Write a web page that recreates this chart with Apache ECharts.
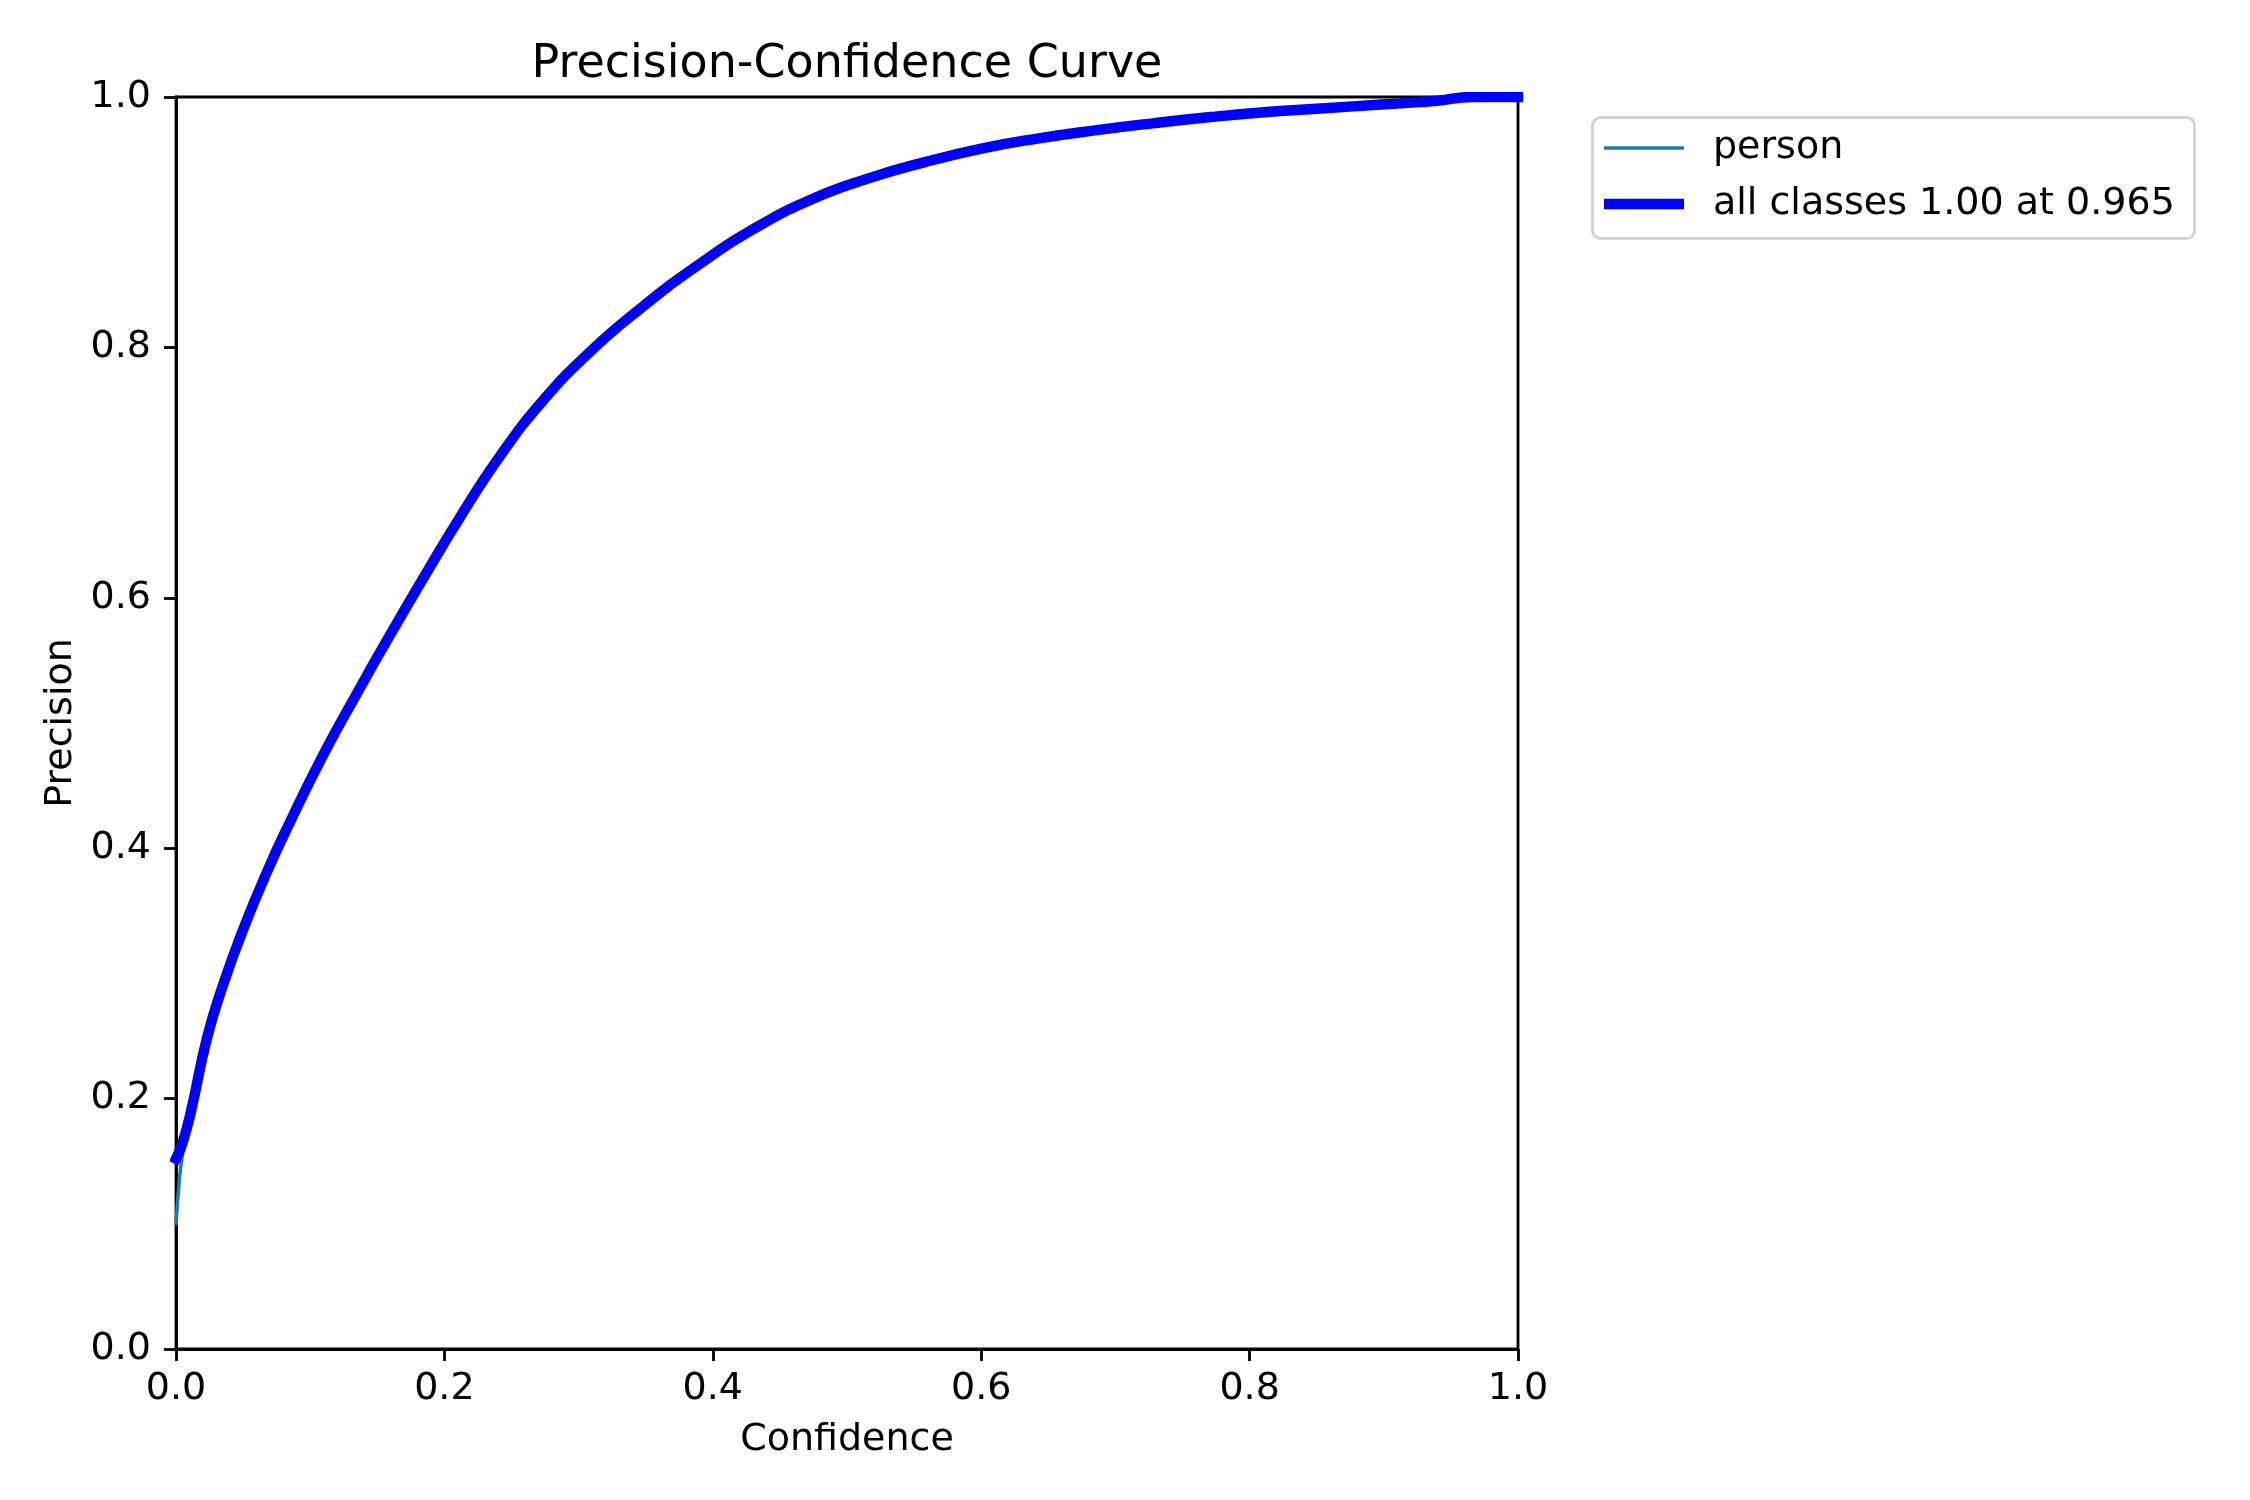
<!DOCTYPE html>
<html><head><meta charset="utf-8">
<script src="https://cdn.jsdelivr.net/npm/echarts/dist/echarts.min.js"></script>
<style>html,body{margin:0;padding:0;background:#fff}#c{width:2250px;height:1500px}</style>
</head><body><div id="c"></div>
<script>
// Confidence values (x) and smoothed precision for all classes
const confidence = [0.000,0.005,0.0114,0.023,0.0345,0.050,0.069,0.085,0.108,0.135,0.1615,0.185,0.212,0.242,0.273,0.308,0.346,0.388,0.431,0.473,0.516,0.558,0.601,0.643,0.686,0.728,0.771,0.813,0.856,0.898,0.940,0.965,1.000];
const allClassesPrecision = [0.152,0.165,0.191,0.248,0.289,0.335,0.384,0.421,0.471,0.524,0.574,0.617,0.665,0.714,0.757,0.796,0.831,0.865,0.895,0.918,0.935,0.948,0.959,0.967,0.9735,0.979,0.984,0.988,0.991,0.994,0.997,1.000,1.000];
// Raw per-class precision (person)
const personConfidence = [0.000,0.0025,0.0055,0.0114,0.023,0.0345,0.050,0.069,0.085,0.108,0.135,0.1615,0.185,0.212,0.242,0.273,0.308,0.346,0.388,0.431,0.473,0.516,0.558,0.601,0.643,0.686,0.728,0.771,0.813,0.856,0.898,0.925,0.930,0.935,0.950,0.965,1.000];
const personPrecision = [0.099,0.135,0.160,0.191,0.248,0.289,0.335,0.384,0.421,0.471,0.524,0.574,0.617,0.665,0.714,0.757,0.796,0.831,0.865,0.895,0.918,0.935,0.948,0.959,0.967,0.9735,0.979,0.984,0.988,0.991,0.994,0.996,0.993,0.996,0.999,1.000,1.000];
const tickValues = [0.0,0.2,0.4,0.6,0.8,1.0];
const seriesNames = ['person','all classes 1.00 at 0.965'];

const FONT = 'DejaVu Sans';
const chart = echarts.init(document.getElementById('c'), null, {renderer:'canvas'});
const axisCommon = {
  type:'value', min:tickValues[0], max:tickValues[tickValues.length-1], interval:0.2,
  axisLine:{show:true, lineStyle:{color:'#000', width:2.8}},
  axisTick:{show:true, length:12, lineStyle:{color:'#000', width:2.8}},
  splitLine:{show:false},
  nameTextStyle:{fontFamily:FONT, fontSize:38, color:'#000'},
  nameLocation:'middle'
};
const legendCommon = {
  orient:'vertical', left:1604, itemWidth:80, itemGap:0, padding:0,
  icon:'rect', selectedMode:false,
  textStyle:{fontFamily:FONT, fontSize:38, color:'#000', lineHeight:44, padding:[0,0,0,24]}
};
chart.setOption({
  animation:false,
  backgroundColor:'#fff',
  title:{text:'Precision-Confidence Curve', left:847, top:42, textAlign:'center', padding:0,
    textStyle:{fontFamily:FONT, fontSize:46, fontWeight:'normal', color:'#000'}},
  grid:{left:176, top:97, right:732, bottom:151, show:true, borderColor:'#000', borderWidth:2.8, backgroundColor:'transparent'},
  graphic:[{type:'rect', left:1591, top:116, z:-1,
    shape:{width:602, height:121, r:8},
    style:{fill:'#fff', stroke:'#d5d5d5', lineWidth:3}}],
  legend:[
    Object.assign({}, legendCommon, {top:126, itemHeight:3.5, data:[seriesNames[0]]}),
    Object.assign({}, legendCommon, {top:182, itemHeight:10.4, data:[seriesNames[1]]})
  ],
  xAxis:Object.assign({}, axisCommon, {name:'Confidence', nameGap:72,
    axisLabel:{fontFamily:FONT, fontSize:38, color:'#000', margin:21, formatter:v=>v.toFixed(1)}}),
  yAxis:Object.assign({}, axisCommon, {name:'Precision', nameGap:95,
    axisLabel:{fontFamily:FONT, fontSize:38, color:'#000', margin:25, formatter:v=>v.toFixed(1)}}),
  series:[
    {name:seriesNames[0], type:'line', symbol:'none', smooth:0.5, clip:true,
     data:personConfidence.map((c,i)=>[c, personPrecision[i]]),
     lineStyle:{color:'#1f77b4', width:3.5, join:'round'}, itemStyle:{color:'#1f77b4'}},
    {name:seriesNames[1], type:'line', symbol:'none', smooth:0.5, clip:true,
     data:confidence.map((c,i)=>[c, allClassesPrecision[i]]),
     lineStyle:{color:'#0000ff', width:10.4, join:'round', cap:'square'}, itemStyle:{color:'#0000ff'}}
  ]
});
</script>
</body></html>
